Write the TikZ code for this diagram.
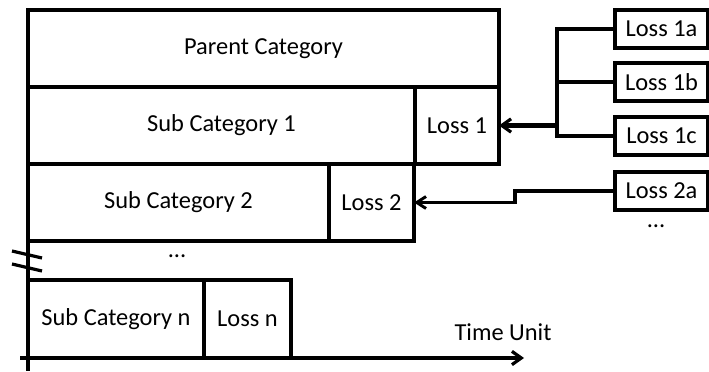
\documentclass[tikz,border=0pt]{standalone}
\usepackage{fontspec}
\setmainfont{Carlito}
\usetikzlibrary{arrows.meta, positioning, calc}

\begin{document}
\begin{tikzpicture}[x=0.75pt, y=-0.75pt,
  txt/.style={font=\fontsize{18.3}{21}\selectfont},
  cell/.style 2 args={draw, line width=2.4pt, inner sep=0pt, outer sep=0pt,
    anchor=north west, minimum width=#1*0.75pt, minimum height=#2*0.75pt, txt},
  feed/.style={line width=2.4pt},
  link/.style={line width=3.2pt, -{Straight Barb[length=7pt, width=10pt, line width=2.4pt]}},
  linkthin/.style={line width=2.4pt, -{Straight Barb[length=7pt, width=9pt, line width=2.2pt]}},
  axis/.style={line width=2.4pt}
]
  \useasboundingbox (0,0) rectangle (709,371);
  % Category stack
  \node[cell={471}{77}] (parent) at (28,10) {Parent Category};
  \node[cell={387}{77}] (sub1) at (28,87) {Sub Category 1};
  \node[cell={84}{77}, right=0pt of sub1] (loss1) {Loss 1};
  \node[cell={301}{77}] (sub2) at (28,164) {Sub Category 2};
  \node[cell={85}{77}, right=0pt of sub2] (loss2) {Loss 2};
  \node[txt] (gap) at (177,256) {...};
  \node[cell={176}{78}] (subn) at (28,280) {Sub Category n};
  \node[cell={87}{78}, right=0pt of subn] (lossn) {Loss n};
  % Loss sources
  \node[cell={93}{38}] (loss1a) at (615,10) {Loss 1a};
  \node[cell={93}{38}] (loss1b) at (615,63) {Loss 1b};
  \node[cell={93}{38}] (loss1c) at (615,117) {Loss 1c};
  \node[cell={93}{38}] (loss2a) at (615,172) {Loss 2a};
  \node[txt] (more) at (656,226) {...};
  % Bracket and arrows
  \coordinate (bkt) at (557,82);
  \coordinate (kink) at (515,191);
  \draw[feed] (loss1a.west) -| (bkt |- loss1c.west) -- (loss1c.west);
  \draw[feed] (loss1b.west) -- (bkt |- loss1b.west);
  \draw[link] (bkt |- loss1.east) -- (loss1.east);
  \draw[linkthin] (loss2a.west) -- (kink) |- (loss2.east);
  % Axes
  \coordinate (ytop) at (28,10);
  \coordinate (ybot) at (28,371);
  \coordinate (xstart) at (20,358);
  \coordinate (xend) at (524,358);
  \draw[axis] (ytop) -- (ybot);
  \draw[link, line width=2.4pt] (xstart) -- (xend);
  \node[txt] (time) at (503,332) {Time Unit};
  % Axis break
  \draw[axis] (12,251) -- (42,258);
  \draw[axis] (12,264) -- (42,271);
\end{tikzpicture}
\end{document}
